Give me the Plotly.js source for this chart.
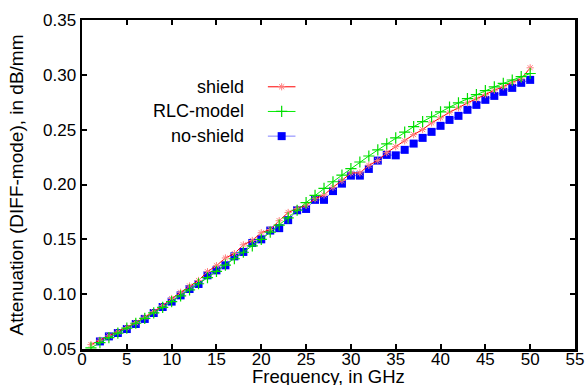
<!DOCTYPE html>
<html>
<head>
<meta charset="utf-8">
<script src="https://cdn.plot.ly/plotly-3.0.1.min.js"></script>
<style>html,body{margin:0;padding:0;background:#fff;}#chart{width:588px;height:385px;}</style>
</head>
<body>
<div id="chart"></div>
<script>
// Frequency in GHz
const freqShield = [1,2,3,4,5,6,7,8,9,10,11,12,13,14,15,16,17,18,19,20,21,22,23,24,25,26,27,28,29,30,31,32,33,34,35,36,37,38,39,40,41,42,43,44,45,46,47,48,49,50];
const shield = [0.0540,0.0580,0.0620,0.0655,0.0695,0.0740,0.0790,0.0840,0.0895,0.0960,0.1017,0.1075,0.1125,0.1205,0.1260,0.1330,0.1370,0.1450,0.1490,0.1560,0.1590,0.1670,0.1745,0.1780,0.1810,0.1870,0.1905,0.1975,0.2036,0.2106,0.2106,0.2175,0.2218,0.2290,0.2345,0.2398,0.2455,0.2501,0.2562,0.2608,0.2659,0.2699,0.2745,0.2781,0.2820,0.2860,0.2891,0.2933,0.2963,0.3064];

const freqRLC = [1,2,3,4,5,6,7,8,9,10,11,12,13,14,15,16,17,18,19,20,21,22,23,24,25,26,27,28,29,30,31,32,33,34,35,36,37,38,39,40,41,42,43,44,45,46,47,48,49,50];
const rlc = [0.0510,0.0558,0.0603,0.0645,0.0690,0.0735,0.0780,0.0830,0.0880,0.0932,0.0985,0.1040,0.1095,0.1150,0.1207,0.1265,0.1323,0.1382,0.1441,0.1500,0.1565,0.1630,0.1695,0.1765,0.1835,0.1900,0.1965,0.2025,0.2085,0.2145,0.2205,0.2260,0.2315,0.2370,0.2425,0.2478,0.2527,0.2573,0.2618,0.2662,0.2705,0.2745,0.2783,0.2820,0.2856,0.2890,0.2922,0.2953,0.2983,0.3012];

const freqNoShield = [2,3,4,5,6,7,8,9,10,11,12,13,14,15,16,17,18,19,20,21,22,23,24,25,26,27,28,29,30,31,32,33,34,35,36,37,38,39,40,41,42,43,44,45,46,47,48,49,50];
const noShield = [0.0569,0.0615,0.0646,0.0682,0.0728,0.0774,0.0828,0.0883,0.0932,0.0989,0.1047,0.1093,0.1172,0.1217,0.1263,0.1345,0.1385,0.1467,0.1500,0.1580,0.1602,0.1675,0.1765,0.1777,0.1860,0.1860,0.1940,0.2008,0.2081,0.2081,0.2142,0.2218,0.2270,0.2266,0.2316,0.2373,0.2425,0.2480,0.2535,0.2589,0.2626,0.2681,0.2726,0.2772,0.2808,0.2845,0.2881,0.2927,0.2954];

const seriesNames = ['shield','RLC-model','no-shield'];
const xTitle = 'Frequency, in GHz';
const yTitle = 'Attenuation (DIFF-mode), in dB/mm';

const styles = [
  {line:{color:'#ff0000',width:1}, marker:{symbol:'asterisk-open',size:6,color:'#ff8080',line:{color:'#ff8080',width:1}}},
  {line:{color:'#00ee00',width:1}, marker:{symbol:'cross-thin-open',size:8,color:'#00dd00',line:{color:'#00dd00',width:1.2}}},
  {line:{color:'#8080ff',width:1}, marker:{symbol:'square',size:8,color:'#0000ff',line:{width:0}}}
];

const xs = [freqShield, freqRLC, freqNoShield];
const ys = [shield, rlc, noShield];
const order = [2,0,1];
const traces = [];
order.forEach(i => {
  traces.push({x: xs[i], y: ys[i], type:'scatter', mode:'lines+markers', name: seriesNames[i],
    line: styles[i].line, marker: styles[i].marker, showlegend:false, hoverinfo:'skip'});
});

// manual gnuplot-style legend (text on the left, sample on the right)
const legendRowsY = [0.797, 0.722, 0.647];
const annotations = [];
seriesNames.forEach((n, i) => {
  traces.push({x:[0.377,0.405,0.433], y:[legendRowsY[i],legendRowsY[i],legendRowsY[i]], xaxis:'x2', yaxis:'y2',
    type:'scatter', mode:'lines', line: styles[i].line, showlegend:false, hoverinfo:'skip'});
  traces.push({x:[0.405], y:[legendRowsY[i]], xaxis:'x2', yaxis:'y2',
    type:'scatter', mode:'markers', marker: styles[i].marker, showlegend:false, hoverinfo:'skip'});
  annotations.push({xref:'paper', yref:'paper', x:0.332, y:legendRowsY[i], xanchor:'right', yanchor:'middle',
    text:n, showarrow:false, font:{size:18, color:'#000'}});
});
annotations.push({xref:'paper', yref:'paper', x:0.5, y:-0.085, xanchor:'center', yanchor:'middle',
  text:xTitle, showarrow:false, font:{size:18.5, color:'#000'}});
annotations.push({xref:'paper', yref:'paper', x:-0.132, y:0.5, xanchor:'center', yanchor:'middle', textangle:-90,
  text:yTitle, showarrow:false, font:{size:19, color:'#000'}});

const axisCommon = {showgrid:false, zeroline:false, showline:true, linecolor:'#000', linewidth:2.5,
  mirror:'ticks', ticks:'inside', ticklen:5, tickwidth:2, tickcolor:'#000',
  tickfont:{size:17, color:'#000'}};

const layout = {
  width:588, height:385,
  margin:{l:82, r:13, t:20, b:36},
  paper_bgcolor:'#fff', plot_bgcolor:'#fff',
  font:{family:'Liberation Sans, Arial, sans-serif', color:'#000'},
  showlegend:false,
  xaxis: Object.assign({}, axisCommon, {range:[0,55], tickmode:'linear', tick0:0, dtick:5, ticklabelstandoff:-7}),
  yaxis: Object.assign({}, axisCommon, {range:[0.05,0.35], tickmode:'linear', tick0:0.05, dtick:0.05, tickformat:'.2f'}),
  xaxis2:{overlaying:'x', range:[0,1], visible:false, fixedrange:true},
  yaxis2:{overlaying:'y', range:[0,1], visible:false, fixedrange:true},
  annotations: annotations
};

Plotly.newPlot('chart', traces, layout, {staticPlot:true, displayModeBar:false});
</script>
</body>
</html>
